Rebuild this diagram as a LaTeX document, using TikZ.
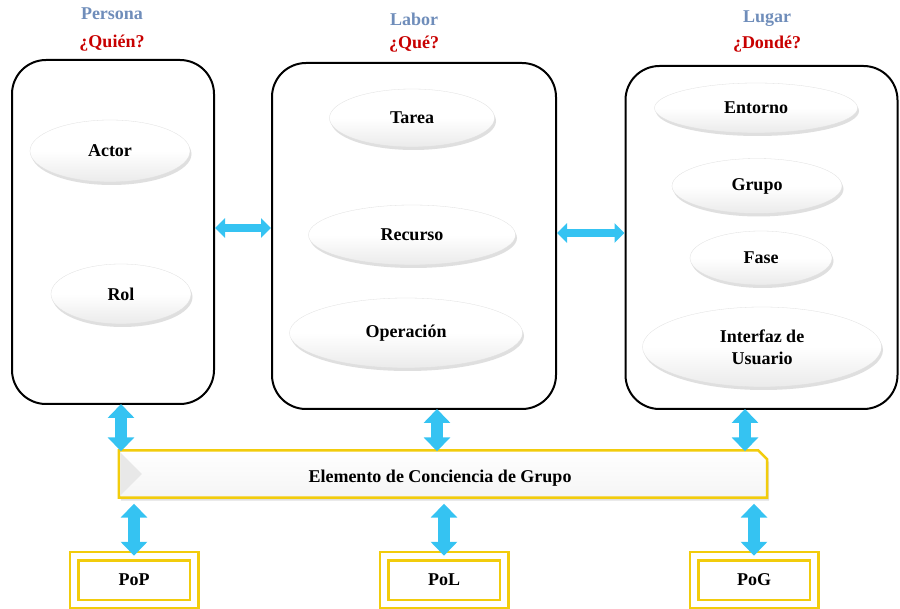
\documentclass[tikz,border=0pt]{standalone}
\usepackage{fontspec}
\setmainfont{Liberation Serif}
\usetikzlibrary{arrows.meta,shapes.geometric,shadows,calc}
\definecolor{hdrblue}{HTML}{6F8DBA}
\definecolor{hdrred}{HTML}{C80000}
\definecolor{arrcyan}{HTML}{35C3F2}
\definecolor{gold}{HTML}{F2CC0C}
\tikzset{
  x=1pt, y=-1pt,
  every node/.style={font=\fontsize{18}{20}\selectfont\bfseries},
  hdrtop/.style={text=hdrblue},
  hdrbot/.style={text=hdrred},
  panel/.style={draw=black, line width=2pt, rounded corners=34pt, fill=white},
  pill/.style={ellipse, shade, top color=white, bottom color=gray!16, middle color=white,
     draw=gray!25, line width=0.3pt, drop shadow={opacity=0.25, shadow xshift=1.5pt, shadow yshift=-3pt},
     inner sep=0pt, align=center},
  dar/.style={draw=arrcyan, line width=12pt, {Triangle[width=26pt,length=14pt,fill=arrcyan]}-{Triangle[width=26pt,length=14pt,fill=arrcyan]}, shorten <=-1pt, shorten >=-1pt},
  har/.style={draw=arrcyan, line width=8pt, {Triangle[width=19pt,length=10pt,fill=arrcyan]}-{Triangle[width=19pt,length=10pt,fill=arrcyan]}},
  barline/.style={draw=gold, line width=2.5pt, shade, top color=white, bottom color=gray!8,
     drop shadow={opacity=0.25, shadow xshift=2pt, shadow yshift=-3pt}},
  bevel/.style={fill=gray!18},
  pbox/.style={draw=gold, double=white, double distance=6pt, line width=2.5pt, fill=white, inner sep=0pt,
     minimum width=120pt, minimum height=48pt, drop shadow={opacity=0.25, shadow xshift=2pt, shadow yshift=-2pt}}
}
\begin{document}
\begin{tikzpicture}
\useasboundingbox (0,0) rectangle (900,609);
% headers
\node[hdrtop] (h1) at (112,14) {Persona};
\node[hdrbot] (q1) at (112,43) {¿Quién?};
\node[hdrtop] (h2) at (414,19) {Labor};
\node[hdrbot] (q2) at (414,44) {¿Qué?};
\node[hdrtop] (h3) at (767,19) {Lugar};
\node[hdrbot] (q3) at (767,44) {¿Dondé?};
% panels
\node[panel, minimum width=202pt, minimum height=344pt] (lbox) at (113,232) {};
\node[panel, minimum width=284pt, minimum height=346pt] (mbox) at (414,236) {};
\node[panel, minimum width=272pt, minimum height=343pt] (rbox) at (761.5,237.5) {};
% pills
\node[pill, minimum width=160pt, minimum height=62pt] (actor) at (110,151) {Actor};
\node[pill, minimum width=140pt, minimum height=60pt] (rol) at (121,294) {Rol};
\node[pill, minimum width=165pt, minimum height=58pt] (tarea) at (412,118) {Tarea};
\node[pill, minimum width=207pt, minimum height=60pt] (recurso) at (412,235) {Recurso};
\node[pill, minimum width=233pt, minimum height=70pt] (oper) at (406,333) {Operación};
\node[pill, minimum width=203pt, minimum height=50pt] (entorno) at (756,108) {Entorno};
\node[pill, minimum width=170pt, minimum height=55pt] (grupo) at (757,186) {Grupo};
\node[pill, minimum width=142pt, minimum height=54pt] (fase) at (761,258) {Fase};
\node[pill, minimum width=239pt, minimum height=80pt, font=\fontsize{18}{22}\selectfont\bfseries] (iu) at (762,347) {Interfaz de\\Usuario};
% bar
\node[minimum width=648pt, minimum height=47pt, inner sep=0pt] (bar) at (443,474) {};
\path[barline] (bar.north west) -- ([xshift=-9pt]bar.north east) -- ([yshift=-9pt]bar.north east) -- (bar.south east) -- (bar.south west) -- cycle;
\fill[bevel] ([shift={(1.5pt,-2pt)}]bar.north west) -- ([xshift=23pt]bar.west) -- ([shift={(1.5pt,2pt)}]bar.south west) -- cycle;
\node (bartext) at (440,478) {Elemento de Conciencia de Grupo};
% bottom boxes
\node[pbox] (pop) at (134,580) {PoP};
\node[pbox] (pol) at (444,580) {PoL};
\node[pbox] (pog) at (754,580) {PoG};
% horizontal arrows
\draw[har] ([yshift=4pt]lbox.east) -- ([yshift=4pt]lbox.east -| mbox.west);
\draw[har] ([yshift=3pt]mbox.east) -- ([yshift=3pt]mbox.east -| rbox.west);
% vertical arrows upper
\coordinate (c1) at (121,0);
\coordinate (c2) at (437,0);
\coordinate (c3) at (745,0);
\draw[dar] (lbox.south -| c1) -- (bar.north -| c1);
\draw[dar] (mbox.south -| c2) -- (bar.north -| c2);
\draw[dar] (rbox.south -| c3) -- (bar.north -| c3);
% vertical arrows lower
\draw[dar] ([yshift=-7pt]bar.south -| pop.north) -- (pop.north);
\draw[dar] ([yshift=-7pt]bar.south -| pol.north) -- (pol.north);
\draw[dar] ([yshift=-7pt]bar.south -| pog.north) -- (pog.north);
\end{tikzpicture}
\end{document}
